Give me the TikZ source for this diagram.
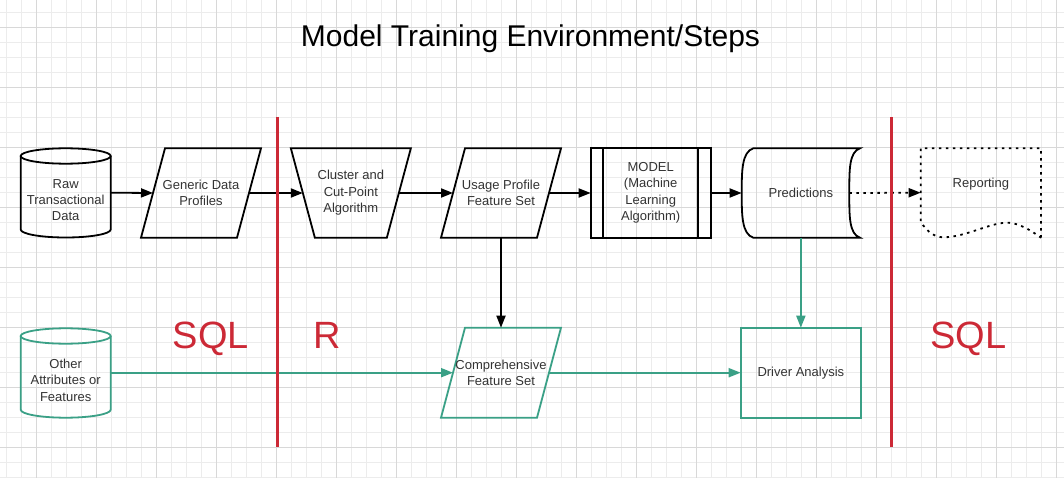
\documentclass[tikz,border=0pt]{standalone}
\usepackage{fontspec}
\setmainfont{Liberation Sans}
\usetikzlibrary{arrows.meta}

\definecolor{sqlred}{RGB}{204,41,54}
\definecolor{featteal}{RGB}{58,160,134}
\definecolor{gridlight}{RGB}{236,236,236}
\definecolor{griddark}{RGB}{216,216,216}
\definecolor{lbltext}{RGB}{51,51,51}

\tikzset{
  lbl/.style={inner sep=0pt, outer sep=0pt, align=center, text=lbltext,
    font=\fontsize{13}{16.4}\selectfont},
  shapeline/.style={line width=1.8pt, line join=miter},
  tealline/.style={draw=featteal, line width=1.8pt},
  dotline/.style={line width=1.8pt, dash pattern=on 2.5pt off 4.5pt},
  flow/.style={line width=1.8pt, -{Triangle[length=12pt,width=9pt]}},
  feed/.style={flow, featteal},
  divider/.style={sqlred, line width=3pt},
  lang/.style={anchor=base, text=sqlred, font=\fontsize{38}{44}\selectfont}
}

\begin{document}
\begin{tikzpicture}[x=1pt,y=-1pt]
			\fill[white] (0,0) rectangle (1064,478);
			\useasboundingbox (0,0) rectangle (1064,478);
			\begin{scope}
			\clip (0,0) rectangle (1064,478);
			\draw[gridlight, line width=1pt, step=15pt, shift={(6.7,12.3)}] (-15,480) grid (1065,-15);
			\draw[griddark, line width=1pt, step=60pt, shift={(36.7,27.3)}] (-60,480) grid (1065,-60);
			\end{scope}

			\node[anchor=base, font=\fontsize{30}{36}\selectfont] (title) at (530.5,46.7) {Model Training Environment/Steps};

			% top row
			\draw[shapeline] (20.7,156) -- (20.7,229.5) arc[start angle=180, end angle=360, x radius=45pt, y radius=8pt] -- (110.7,156);
			\draw[shapeline] (65.7,156) ellipse [x radius=45pt, y radius=7.7pt];
			\node[lbl, minimum width=90pt] (raw) at (65.7,200) {Raw\\Transactional\\Data};

			\draw[shapeline] (165,148.3) -- (261,148.3) -- (237,237.7) -- (141,237.7) -- cycle;
			\node[lbl, minimum width=96pt, minimum height=89.4pt] (gen) at (201,193) {Generic Data\\Profiles};

			\draw[shapeline] (290.85,148.3) -- (410.85,148.3) -- (386.85,237.7) -- (314.85,237.7) -- cycle;
			\node[lbl, minimum width=96pt, minimum height=89.4pt] (clu) at (350.85,193) {Cluster and\\Cut-Point\\Algorithm};

			\draw[shapeline] (465,148.3) -- (561,148.3) -- (537,237.7) -- (441,237.7) -- cycle;
			\node[lbl, minimum width=96pt, minimum height=89.4pt] (use) at (501,193) {Usage Profile\\Feature Set};

			\node[lbl, draw, shapeline, minimum width=120pt, minimum height=89.4pt] (mod) at (650.7,193) {MODEL\\(Machine\\Learning\\Algorithm)};
			\draw[shapeline] (603.3,148.3) -- (603.3,237.7);
			\draw[shapeline] (698.1,148.3) -- (698.1,237.7);

			\draw[shapeline] (753.3,148.3) -- (860,148.3) .. controls (849,152) and (849.3,170) .. (849.3,193) .. controls (849.3,216) and (849,234) .. (860,237.7) -- (753.3,237.7) .. controls (742,234) and (741.7,216) .. (741.7,193) .. controls (741.7,170) and (742,152) .. (753.3,148.3) -- cycle;
			\node[lbl, minimum width=118.3pt, minimum height=89.4pt] (pred) at (800.85,193) {Predictions};

			\draw[dotline] (1041,237.7) -- (1041,148.3) -- (920.7,148.3) -- (920.7,221.7) .. controls (927,232) and (935,237.3) .. (943.3,237.3) .. controls (965,237.3) and (990,222.7) .. (1006.7,222.7) .. controls (1015,222.7) and (1025,226) .. (1041,237.7);
			\node[lbl, minimum width=120.3pt] (rep) at (980.85,184) {Reporting};

			% bottom row
			\draw[tealline] (20.7,336) -- (20.7,409.7) arc[start angle=180, end angle=360, x radius=45pt, y radius=8pt] -- (110.7,336);
			\draw[tealline] (65.7,336) ellipse [x radius=45pt, y radius=7.7pt];
			\node[lbl, minimum width=90pt] (oth) at (65.7,380) {Other\\Attributes or\\Features};

			\draw[tealline] (465,327.7) -- (561,327.7) -- (537,417.7) -- (441,417.7) -- cycle;
			\node[lbl, minimum width=96pt, minimum height=90pt] (comp) at (501,372.7) {Comprehensive\\Feature Set};

			\node[lbl, tealline, minimum width=120.3pt, minimum height=90pt] (drv) at (800.85,372.7) {Driver Analysis};

			% connectors
			\draw[flow] ([yshift=7.3pt]raw.east) -- (gen.west);
			\draw[flow] (gen.east) -- (clu.west);
			\draw[flow] (clu.east) -- (use.west);
			\draw[flow] (use.east) -- (mod.west);
			\draw[flow] (mod.east) -- (pred.west);
			\draw[flow, dotline] ([xshift=-10.7pt]pred.east) -- ([yshift=-8.7pt]rep.west);
			\draw[flow] (use.south) -- (comp.north);
			\draw[feed] ([yshift=7.3pt]oth.east) -- (comp.west);
			\draw[feed] (comp.east) -- (drv.west);
			\draw[feed] (pred.south) -- (drv.north);

			\draw[divider] (277.3,117) -- (277.3,446.7);
			\draw[divider] (891,117) -- (891,446.7);

			\node[lang] (sqlin) at (211,348.3) {SQL};
			\node[lang] (rlang) at (327,348.3) {R};
			\node[lang] (sqlout) at (968.3,348.3) {SQL};
		\end{tikzpicture}
\end{document}
